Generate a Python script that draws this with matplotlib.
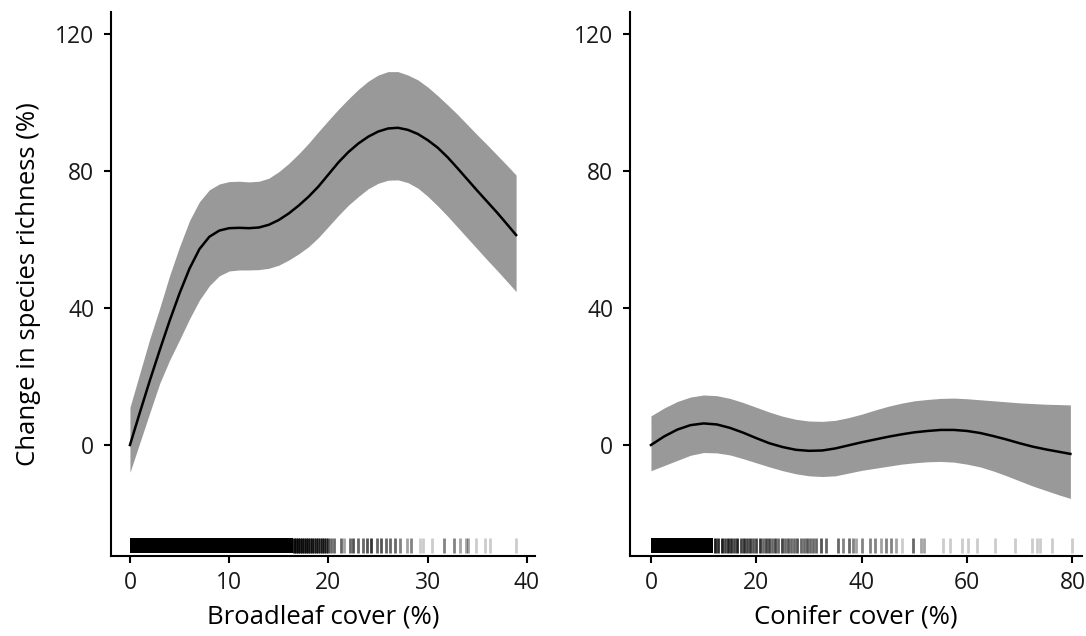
import numpy as np
from matplotlib import pyplot as plt
import matplotlib.transforms as mtransforms

plt.rcParams["font.family"] = ["Open Sans", "DejaVu Sans"]

# Broadleaf panel: fitted curve and confidence band
broad_x = [0, 1, 2, 3, 4, 5, 6, 7, 8, 9, 10, 11, 12, 13, 14, 15, 16, 17, 18, 19,
           20, 21, 22, 23, 24, 25, 26, 27, 28, 29, 30, 31, 32, 33, 34, 35, 36, 37, 38, 38.9]
broad_fit = [0, 9.5, 18.8, 27.7, 36.3, 44.3, 51.5, 57.2, 60.8, 62.6, 63.3, 63.4, 63.3, 63.5, 64.3, 65.7, 67.6, 69.9, 72.5, 75.5,
             79.0, 82.5, 85.5, 88.0, 90.0, 91.5, 92.4, 92.6, 92.0, 90.8, 89.0, 86.8, 84.0, 80.8, 77.5, 74.2, 71.0, 67.8, 64.4, 61.3]
broad_hi = [11, 21, 31, 40, 49.5, 57.9, 65.5, 71, 74.5, 76.2, 76.9, 77, 76.8, 77, 77.9, 79.8, 82.2, 85, 88.1, 91.5,
            94.8, 98, 101, 103.8, 106.2, 108, 109, 109, 108, 106.6, 104.5, 102, 99.3, 96.5, 93.5, 90.5, 87.6, 84.6, 81.6, 78.8]
broad_lo = [-8, 0.7, 9.4, 18, 24.8, 30.7, 36.8, 42.3, 46.5, 49.4, 50.8, 51.1, 51.1, 51.2, 51.6, 52.5, 54, 55.8, 57.9, 60.6,
            63.8, 67, 70, 72.5, 74.8, 76.4, 77.3, 77.4, 76.6, 75, 72.6, 69.8, 66.8, 63.6, 60.4, 57.2, 54, 50.9, 47.7, 44.8]

# Conifer panel: fitted curve and confidence band
con_x = [0, 2.5, 5, 7.5, 10, 12.5, 15, 17.5, 20, 22.5, 25, 27.5, 30, 32.5, 35, 37.5, 40,
         42.5, 45, 47.5, 50, 52.5, 55, 57.5, 60, 62.5, 65, 67.5, 70, 72.5, 75, 77.5, 79.6]
con_fit = [0, 2.5, 4.5, 5.8, 6.3, 6.0, 5.0, 3.6, 2.0, 0.5, -0.6, -1.4, -1.7, -1.6, -1.0, -0.1, 0.8,
           1.6, 2.4, 3.1, 3.7, 4.1, 4.4, 4.4, 4.1, 3.5, 2.6, 1.6, 0.5, -0.5, -1.3, -2.0, -2.6]
con_hi = [8.5, 10.8, 12.7, 14.0, 14.6, 14.4, 13.6, 12.4, 11.0, 9.6, 8.4, 7.5, 7.0, 6.9, 7.2, 8.0, 9.0,
          10.2, 11.3, 12.2, 12.9, 13.3, 13.6, 13.7, 13.5, 13.2, 12.9, 12.6, 12.3, 12.1, 11.9, 11.8, 11.7]
con_lo = [-7.5, -6.0, -4.5, -3.0, -2.2, -2.3, -2.9, -4.0, -5.2, -6.4, -7.5, -8.4, -9.0, -9.2, -9.0, -8.2, -7.4,
          -6.8, -6.2, -5.6, -5.2, -4.9, -4.8, -5.0, -5.6, -6.4, -7.6, -9.0, -10.5, -12.0, -13.3, -14.6, -15.6]

# Rug: solid dense span, then individual observations (position, count)
broad_rug_dense = (0, 16.4)
broad_rug_x = [16.5, 16.7, 16.9, 17.1, 17.3, 17.5, 17.7, 17.9, 18.1, 18.3, 18.5, 18.7, 18.9, 19.1, 19.3, 19.5, 19.7,
               20.0, 20.3, 20.6, 21.3, 21.6, 22.2, 22.5, 23.0, 23.5, 23.9, 24.3, 24.9, 25.3, 25.8, 26.2, 26.7,
               27.2, 27.9, 28.3, 29.2, 29.5, 30.4, 31.6, 32.6, 33.2, 33.9, 34.1, 34.9, 35.8, 36.3, 38.9]
broad_rug_n = [14, 10, 12, 9, 11, 8, 10, 9, 7, 10, 6, 8, 7, 6, 8, 7, 6,
               6, 4, 4, 4, 2, 4, 5, 4, 4, 5, 7, 4, 5, 4, 4, 4,
               3, 2, 3, 1, 1, 1, 3, 3, 2, 2, 2, 1, 1, 1, 1]

con_rug_dense = (0, 11.8)
con_rug_x = [12.2, 12.8, 13.4, 14.0, 14.6, 15.2, 15.8, 16.4, 17.0, 17.6, 18.2, 18.8, 19.4, 20.0, 20.6, 21.2,
             21.8, 22.4, 23.0, 23.6, 24.2, 24.8, 25.4, 26.0, 26.6, 27.2, 27.8, 28.4, 29.0, 29.6, 30.2, 30.8,
             31.4, 32.2, 33.2, 35.5, 36.5, 37.6, 38.3, 39.0, 40.0, 41.6, 42.6, 43.6, 44.6, 45.6, 46.5,
             47.6, 49.7, 51.2, 51.8, 55.4, 56.7, 59.0, 60.2, 61.9, 65.3, 69.1, 72.3, 73.2, 73.8, 76.1, 79.9]
con_rug_n = [10, 8, 10, 6, 9, 8, 6, 9, 6, 8, 6, 7, 5, 6, 7, 4,
             6, 6, 4, 6, 4, 6, 4, 5, 4, 4, 5, 4, 4, 5, 4, 4,
             4, 5, 4, 4, 3, 4, 3, 2, 3, 3, 3, 2, 3, 3, 2,
             1, 4, 2, 2, 1, 1, 1, 1, 1, 1, 1, 1, 1, 1, 1, 1]

rug_alpha = 0.2
fig = plt.figure(figsize=(10.86, 6.36), dpi=100)
ax1 = fig.add_axes([0.1022, 0.1258, 0.3904, 0.8553])
ax2 = fig.add_axes([0.5801, 0.1258, 0.4162, 0.8553])


def draw_panel(ax, x, fit, lo, hi, dense, rug_x, rug_n, xlim, xticks, xlabel):
    ax.fill_between(x, lo, hi, color="#999999", linewidth=0)
    ax.plot(x, fit, color="black", linewidth=1.8)

    trans = mtransforms.blended_transform_factory(ax.transData, ax.transAxes)
    ax.fill_between(dense, 0.005, 0.033, color="black", linewidth=0, transform=trans)
    for xv, n in zip(rug_x, rug_n):
        a = 1 - (1 - rug_alpha) ** n
        ax.plot([xv, xv], [0.005, 0.033], color="black", alpha=a,
                linewidth=2.0, transform=trans, solid_capstyle="butt")

    ax.set_xlim(xlim)
    ax.set_ylim(-32.4, 126.4)
    ax.set_xticks(xticks)
    ax.set_yticks([0, 40, 80, 120])
    ax.set_xlabel(xlabel, fontsize=18.5, labelpad=7)
    for s in ["top", "right"]:
        ax.spines[s].set_visible(False)
    for s in ["left", "bottom"]:
        ax.spines[s].set_linewidth(1.5)
    ax.tick_params(length=5, width=1.5, labelsize=16.5, labelcolor="#1a1a1a")
    ax.tick_params(axis="x", pad=6)
    ax.tick_params(axis="y", pad=7)


draw_panel(ax1, broad_x, broad_fit, broad_lo, broad_hi, broad_rug_dense, broad_rug_x, broad_rug_n,
           (-1.91, 40.8), [0, 10, 20, 30, 40], "Broadleaf cover (%)")
draw_panel(ax2, con_x, con_fit, con_lo, con_hi, con_rug_dense, con_rug_x, con_rug_n,
           (-3.98, 81.8), [0, 20, 40, 60, 80], "Conifer cover (%)")
ax1.set_ylabel("Change in species richness (%)", fontsize=18.5, labelpad=10)

fig.savefig("out.png", dpi=100)
